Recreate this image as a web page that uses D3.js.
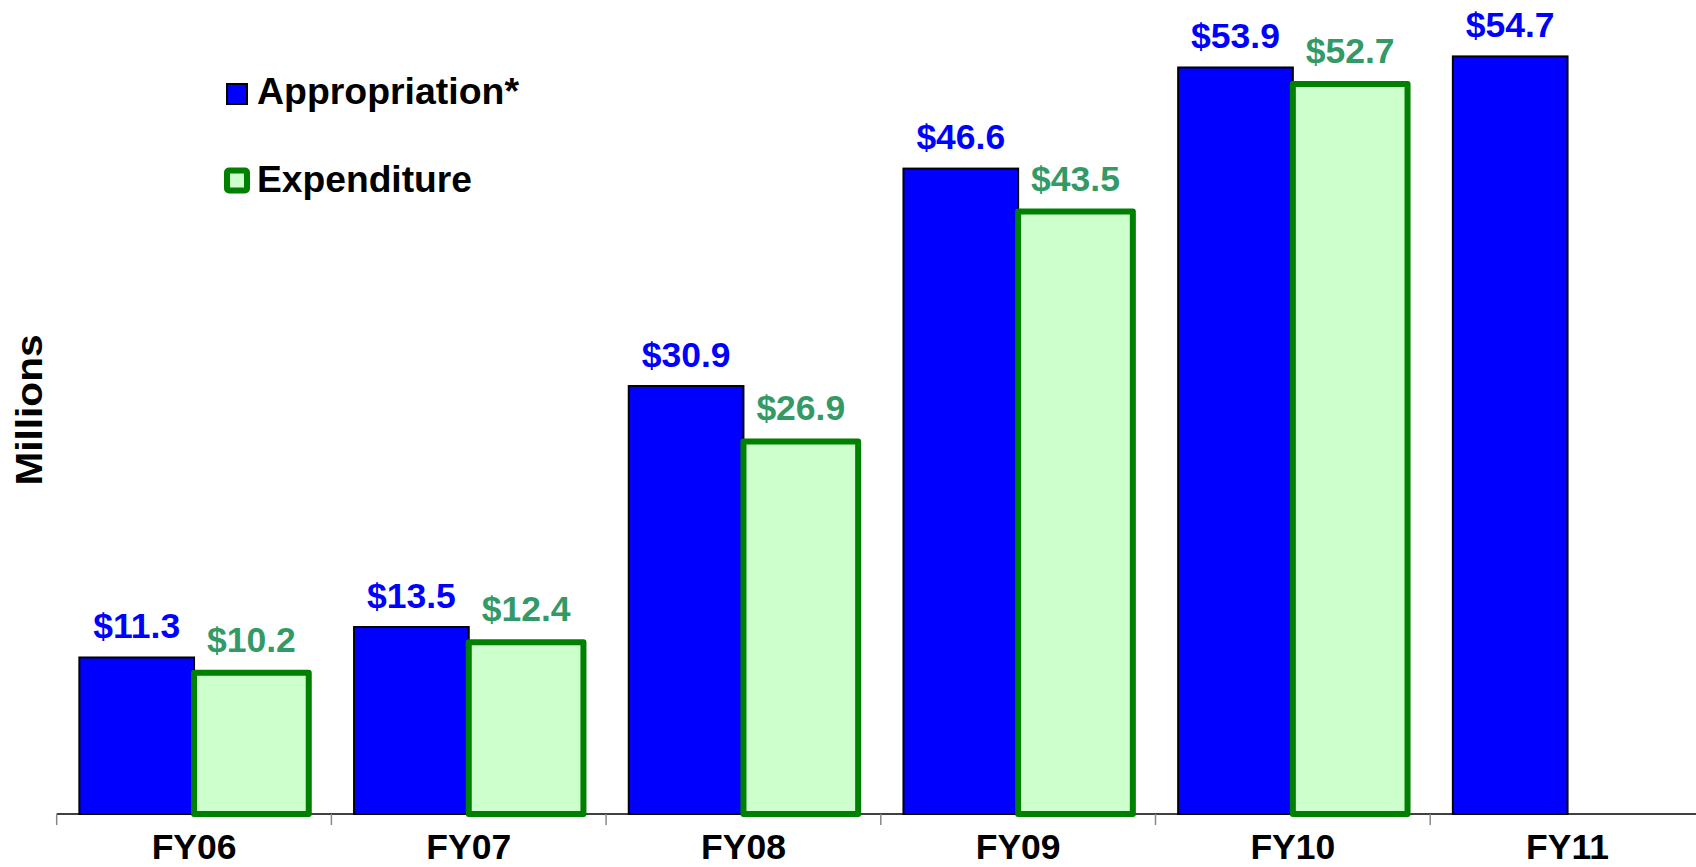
<!DOCTYPE html>
<html>
<head>
<meta charset="utf-8">
<script src="https://cdn.jsdelivr.net/npm/d3@7"></script>
<style>
  html, body { margin: 0; padding: 0; background: #fff; }
  svg { display: block; font-family: "Liberation Sans", Arial, sans-serif; font-weight: bold; }
</style>
</head>
<body>
<svg id="chart" width="1696" height="867"></svg>
<script>
const categories = ["FY06", "FY07", "FY08", "FY09", "FY10", "FY11"];
const seriesNames = ["Appropriation*", "Expenditure"];
const appropriation = [11.3, 13.5, 30.9, 46.6, 53.9, 54.7];
const expenditure = [10.2, 12.4, 26.9, 43.5, 52.7, null];
const axisTitle = "Millions";

const svg = d3.select("#chart");
const W = 1696, H = 867;

const x = d3.scaleBand().domain(categories).range([56.7, 56.7 + 6 * 274.7]).padding(0);
const xs = d3.scaleBand().domain(seriesNames).range([0, x.bandwidth()]).paddingInner(0).paddingOuter(0.1975);
const y = d3.scaleLinear().domain([0, 60]).range([814, 814 - 60 * 13.85]);

const colors = {
  "Appropriation*": { fill: "#0000FF", stroke: "#000000", sw: 2, label: "#0000FF", gap: 19.5 },
  "Expenditure": { fill: "#CCFFCC", stroke: "#008000", sw: 6, label: "#339966", gap: 21 }
};

const rows = [];
categories.forEach((c, i) => {
  rows.push({ cat: c, s: seriesNames[0], v: appropriation[i] });
  if (expenditure[i] != null) rows.push({ cat: c, s: seriesNames[1], v: expenditure[i] });
});

// axis line
svg.append("line")
  .attr("x1", x.range()[0]).attr("x2", W)
  .attr("y1", y(0)).attr("y2", y(0))
  .attr("stroke", "#000").attr("stroke-width", 1.5);

// boundary ticks
const bounds = categories.map(c => x(c)).concat([x.range()[1]]);
svg.append("g").selectAll("line").data(bounds).join("line")
  .attr("x1", d => d).attr("x2", d => d)
  .attr("y1", y(0)).attr("y2", y(0) + 11)
  .attr("stroke", "#888").attr("stroke-width", 1.5);

// category labels via d3 axis
const xAxis = svg.append("g")
  .attr("transform", `translate(0,${y(0)})`)
  .call(d3.axisBottom(x).tickSize(0).tickPadding(0));
xAxis.select(".domain").remove();
xAxis.selectAll("text")
  .attr("dy", null)
  .attr("y", 45)
  .attr("font-size", 35.5)
  .attr("font-weight", "bold")
  .attr("font-family", "Liberation Sans, Arial, sans-serif")
  .attr("fill", "#000");

// bars
const bars = svg.append("g");
rows.forEach(r => {
  const c = colors[r.s];
  const bx = x(r.cat) + xs(r.s);
  const bw = xs.bandwidth();
  bars.append("rect")
    .attr("x", bx).attr("y", y(r.v))
    .attr("width", bw).attr("height", y(0) - y(r.v))
    .attr("fill", c.fill).attr("stroke", c.stroke).attr("stroke-width", c.sw)
    .attr("stroke-linejoin", r.s === "Expenditure" ? "round" : "miter");
});

// value labels
svg.append("g").selectAll("text").data(rows).join("text")
  .attr("x", d => x(d.cat) + xs(d.s) + xs.bandwidth() / 2)
  .attr("y", d => y(d.v) - colors[d.s].gap)
  .attr("text-anchor", "middle")
  .attr("font-size", 35.5)
  .attr("fill", d => colors[d.s].label)
  .text(d => "$" + d.v.toFixed(1));

// y axis title
svg.append("text")
  .attr("transform", "translate(41.5,410) rotate(-90)")
  .attr("text-anchor", "middle")
  .attr("font-size", 37)
  .attr("textLength", 151)
  .attr("lengthAdjust", "spacingAndGlyphs")
  .attr("fill", "#000")
  .text(axisTitle);

// legend
const lg = svg.append("g");
lg.append("rect").attr("x", 227).attr("y", 84).attr("width", 20).attr("height", 20)
  .attr("fill", "#0000FF").attr("stroke", "#000").attr("stroke-width", 2);
lg.append("text").attr("x", 257).attr("y", 104.3).attr("font-size", 37)
  .attr("textLength", 262).attr("lengthAdjust", "spacingAndGlyphs")
  .attr("fill", "#000").text(seriesNames[0]);
lg.append("rect").attr("x", 227).attr("y", 170.5).attr("width", 20).attr("height", 20)
  .attr("rx", 2)
  .attr("fill", "#CCFFCC").attr("stroke", "#008000").attr("stroke-width", 6);
lg.append("text").attr("x", 257).attr("y", 191.7).attr("font-size", 37)
  .attr("textLength", 215).attr("lengthAdjust", "spacingAndGlyphs")
  .attr("fill", "#000").text(seriesNames[1]);
</script>
</body>
</html>
